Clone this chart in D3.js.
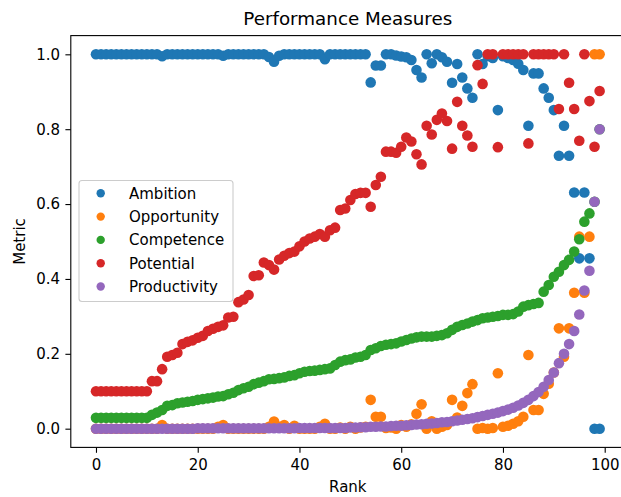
<!DOCTYPE html>
<html>
<head>
<meta charset="utf-8">
<script src="https://cdn.jsdelivr.net/npm/d3@7"></script>
<style>
  html, body { margin: 0; padding: 0; background: #fff; }
  svg { display: block; font-family: "DejaVu Sans", sans-serif; }
</style>
</head>
<body>
<svg id="chart" width="621" height="497"></svg>
<script>
// Rank positions 0..99
const rank = d3.range(100);

const seriesNames = ["Ambition", "Opportunity", "Competence", "Potential", "Productivity"];
const seriesColors = ["#1f77b4", "#ff7f0e", "#2ca02c", "#d62728", "#9467bd"];

const ambition = [
  1,1,1,1,1,1,1,1,1,1,
  1,1,1,0.995,1,1,1,1,1,1,
  1,1,1,1,1,0.996,1,1,1,1,
  1,1,1,1,0.993,0.98,0.996,1,1,1,
  1,1,1,1,1,0.987,1,1,1,1,
  1,1,1,1,0.925,0.97,0.97,1,1,0.997,
  0.994,0.992,0.985,0.958,0.938,1,0.976,1,0.992,0.98,
  0.924,0.974,0.938,0.909,0.884,1,0.974,0.995,0.99,0.851,
  0.995,0.99,0.985,0.975,0.958,0.809,0.949,0.949,0.909,0.884,
  0.851,0.729,0.809,0.729,0.631,0.455,0.631,0.455,0,0
];

const opportunity = [
  0,0,0,0,0,0,0,0,0,0,
  0,0,0,0.01,0,0,0,0,0,0,
  0,0,0,0,0.005,0.01,0,0,0,0,
  0,0,0,0,0.005,0.019,0.005,0.01,0,0.008,
  0,0,0,0,0.005,0.013,0,0,0.003,0,
  0.005,0,0.003,0.005,0.077,0.032,0.032,0.002,0.003,0,
  0.01,0.005,0.012,0.04,0.065,0,0.02,0,0.005,0.01,
  0.077,0.03,0.061,0.095,0.119,0,0.002,0,0.002,0.148,
  0.005,0.008,0.013,0.02,0.032,0.197,0.05,0.05,0.093,0.12,
  0.15,0.268,0.192,0.268,0.363,0.513,0.363,0.513,1,1
];

const competence = [
  0.029,0.029,0.029,0.029,0.029,0.029,0.029,0.029,0.029,0.029,
  0.029,0.037,0.043,0.05,0.061,0.063,0.068,0.07,0.072,0.074,
  0.077,0.079,0.081,0.083,0.086,0.087,0.092,0.096,0.103,0.108,
  0.112,0.119,0.123,0.127,0.132,0.133,0.135,0.137,0.141,0.143,
  0.148,0.152,0.154,0.155,0.157,0.159,0.161,0.17,0.179,0.183,
  0.185,0.19,0.192,0.197,0.21,0.215,0.221,0.224,0.226,0.228,
  0.233,0.237,0.241,0.244,0.246,0.246,0.246,0.248,0.25,0.255,
  0.264,0.272,0.277,0.281,0.286,0.29,0.295,0.297,0.299,0.301,
  0.304,0.304,0.306,0.313,0.326,0.33,0.333,0.336,0.366,0.384,
  0.406,0.419,0.437,0.451,0.473,0.506,0.553,0.575,0.606,0.8
];

const potential = [
  0.1,0.1,0.1,0.1,0.1,0.1,0.1,0.1,0.1,0.1,
  0.1,0.127,0.127,0.159,0.192,0.197,0.203,0.226,0.232,0.236,
  0.243,0.248,0.261,0.267,0.272,0.276,0.297,0.299,0.338,0.345,
  0.357,0.408,0.41,0.444,0.437,0.425,0.452,0.462,0.469,0.473,
  0.487,0.5,0.508,0.513,0.52,0.513,0.53,0.537,0.584,0.588,
  0.611,0.627,0.63,0.63,0.593,0.651,0.673,0.74,0.74,0.737,
  0.753,0.778,0.767,0.733,0.706,0.809,0.786,0.825,0.842,0.822,
  0.748,0.873,0.809,0.783,0.753,0.971,0.921,1,1,0.752,
  1,1,1,1,1,0.762,1,1,1,1,
  1,0.854,1,0.924,0.854,0.769,1,0.875,0.753,0.902
];

const productivity = [
  0,0,0,0,0,0,0,0,0,0,
  0,0,0,0,0,0,0,0,0,0,
  0.001,0.001,0.001,0.001,0.001,0.001,0.001,0.001,0.001,0.001,
  0.001,0.001,0.001,0.001,0.001,0.001,0.001,0.001,0.001,0.001,
  0.002,0.002,0.002,0.002,0.002,0.002,0.002,0.002,0.002,0.002,
  0.003,0.003,0.004,0.004,0.005,0.005,0.006,0.006,0.007,0.008,
  0.008,0.009,0.01,0.011,0.012,0.013,0.014,0.015,0.017,0.018,
  0.02,0.022,0.024,0.026,0.028,0.031,0.034,0.037,0.04,0.043,
  0.047,0.051,0.056,0.062,0.069,0.077,0.087,0.098,0.112,0.13,
  0.15,0.175,0.2,0.226,0.261,0.305,0.369,0.422,0.606,0.8
];

const seriesValues = [ambition, opportunity, competence, potential, productivity];

const xTicks = [0, 20, 40, 60, 80, 100];
const yTicks = [0, 0.2, 0.4, 0.6, 0.8, 1.0];

const titleText = "Performance Measures";
const xLabel = "Rank";
const yLabel = "Metric";

// Layout of the axes box
const plotLeft = 70.8, plotRight = 624.8, plotTop = 35.6, plotBottom = 447.4;
const x = d3.scaleLinear().domain([-4.95, 103.95]).range([plotLeft, plotRight]);
const y = d3.scaleLinear().domain([-0.05, 1.05]).range([plotBottom, plotTop]);

const svg = d3.select("#chart");
const fontSize = 15;

// Points, clipped to the axes box
svg.append("clipPath").attr("id", "plotClip")
  .append("rect").attr("x", plotLeft).attr("y", plotTop)
  .attr("width", plotRight - plotLeft).attr("height", plotBottom - plotTop);

const plot = svg.append("g").attr("clip-path", "url(#plotClip)");
seriesValues.forEach((vals, s) => {
  plot.append("g")
    .selectAll("circle")
    .data(rank.map(r => ({ r, v: vals[r] })))
    .join("circle")
    .attr("cx", d => x(d.r))
    .attr("cy", d => y(d.v))
    .attr("r", 5.3)
    .attr("fill", seriesColors[s]);
});

// Axes
const xAxis = d3.axisBottom(x).tickValues(xTicks).tickFormat(d3.format("d"))
  .tickSize(5.4).tickSizeOuter(0).tickPadding(7);
const yAxis = d3.axisLeft(y).tickValues(yTicks).tickFormat(d3.format(".1f"))
  .tickSize(5.4).tickSizeOuter(0).tickPadding(5.4);

const gx = svg.append("g").attr("transform", `translate(0,${plotBottom})`).call(xAxis);
const gy = svg.append("g").attr("transform", `translate(${plotLeft},0)`).call(yAxis);
[gx, gy].forEach(g => {
  g.select(".domain").remove();
  g.selectAll(".tick line").attr("stroke", "#000").attr("stroke-width", 1.1);
  g.selectAll(".tick text").attr("fill", "#000")
    .style("font-family", "DejaVu Sans").style("font-size", fontSize + "px");
});

// Frame
svg.append("rect")
  .attr("x", plotLeft).attr("y", plotTop)
  .attr("width", plotRight - plotLeft).attr("height", plotBottom - plotTop)
  .attr("fill", "none").attr("stroke", "#000").attr("stroke-width", 1.1);

// Title and axis labels
svg.append("text")
  .attr("x", (plotLeft + plotRight) / 2).attr("y", 25)
  .attr("text-anchor", "middle")
  .style("font-size", "18.3px").attr("fill", "#000")
  .text(titleText);

svg.append("text")
  .attr("x", (plotLeft + plotRight) / 2).attr("y", 492)
  .attr("text-anchor", "middle")
  .style("font-size", fontSize + "px").attr("fill", "#000")
  .text(xLabel);

svg.append("text")
  .attr("transform", `translate(25,${(plotTop + plotBottom) / 2}) rotate(-90)`)
  .attr("text-anchor", "middle")
  .style("font-size", fontSize + "px").attr("fill", "#000")
  .text(yLabel);

// Legend
const legend = svg.append("g");
legend.append("rect")
  .attr("x", 79).attr("y", 180.5).attr("width", 154).attr("height", 121)
  .attr("rx", 3).attr("fill", "#fff").attr("fill-opacity", 0.8)
  .attr("stroke", "#cccccc").attr("stroke-width", 1.1);

seriesNames.forEach((name, i) => {
  const cy = 193.3 + i * 23.3;
  legend.append("circle").attr("cx", 100.7).attr("cy", cy).attr("r", 4.2)
    .attr("fill", seriesColors[i]);
  legend.append("text").attr("x", 129).attr("y", cy + 5.3)
    .style("font-size", fontSize + "px").attr("fill", "#000")
    .text(name);
});
</script>
</body>
</html>
